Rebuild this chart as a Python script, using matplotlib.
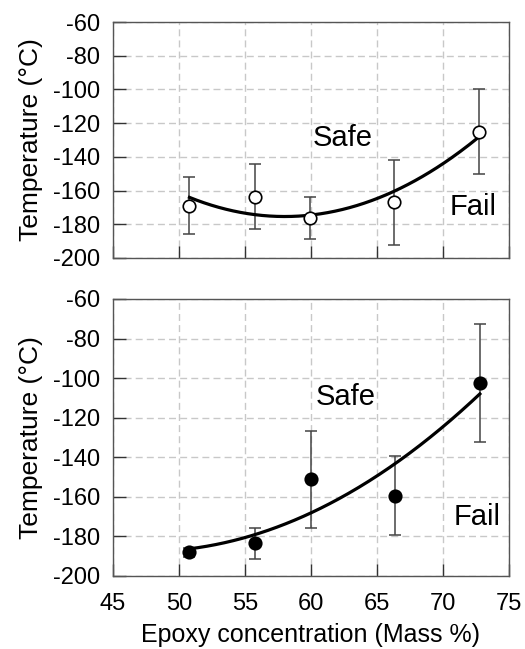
import numpy as np
import matplotlib
matplotlib.use('Agg')
import matplotlib.pyplot as plt

plt.rcParams['font.family'] = ['Liberation Sans', 'DejaVu Sans']
plt.rcParams['axes.unicode_minus'] = False

# Top panel (open circles)
x_top = [50.8, 55.8, 59.9, 66.3, 72.75]
y_top = [-169, -164, -176.5, -167, -125]
err_top_hi = [-152, -144, -164, -142, -100]
err_top_lo = [-185.5, -183, -189, -192.5, -150]

# Bottom panel (filled circles)
x_bot = [50.8, 55.8, 60.0, 66.4, 72.8]
y_bot = [-188, -183.5, -151, -159.5, -102.5]
err_bot_hi = [-186, -175.5, -126.5, -139.5, -72.5]
err_bot_lo = [-190.5, -191.5, -175.5, -179.5, -132.5]

xticks = [45, 50, 55, 60, 65, 70, 75]
yticks = [-200, -180, -160, -140, -120, -100, -80, -60]

fig = plt.figure(figsize=(5.25, 6.49), dpi=100)
ax1 = fig.add_axes([0.215, 0.6025, 0.7543, 0.3636])
ax2 = fig.add_axes([0.215, 0.1125, 0.7543, 0.4268])


def draw(ax, x, y, hi, lo, filled, safe_pos, fail_pos):
    x = np.array(x)
    y = np.array(y)
    yerr = [y - np.array(lo), np.array(hi) - y]
    ax.errorbar(x, y, yerr=yerr, fmt='none', ecolor='#444444', elinewidth=1.1,
                capsize=4.5, capthick=1.1, zorder=3)
    coef = np.polyfit(x, y, 2)
    xf = np.linspace(x.min(), x.max(), 200)
    ax.plot(xf, np.polyval(coef, xf), color='black', lw=2.3, zorder=4)
    ax.plot(x, y, 'o', ms=9, mfc='black' if filled else 'white',
            mec='black', mew=1.2, zorder=5)
    ax.text(*safe_pos, 'Safe', fontsize=21, ha='center', va='center')
    ax.text(*fail_pos, 'Fail', fontsize=21, ha='center', va='center')
    ax.set_xlim(45, 75)
    ax.set_ylim(-200, -60)
    ax.set_xticks(xticks)
    ax.set_yticks(yticks)
    ax.grid(True, color='#c8c8c8', ls=(0, (5, 3)), lw=1.0)
    ax.set_axisbelow(True)
    ax.tick_params(direction='in', length=9, width=1, color='#333333',
                   labelsize=17)
    ax.tick_params(axis='y', pad=9)
    ax.tick_params(axis='x', pad=12)
    for s in ax.spines.values():
        s.set_color('#555555')
        s.set_linewidth(1.0)
    ax.set_ylabel('Temperature (°C)', fontsize=19, labelpad=7)


draw(ax1, x_top, y_top, err_top_hi, err_top_lo, False, (62.4, -129), (72.3, -170))
draw(ax2, x_bot, y_bot, err_bot_hi, err_bot_lo, True, (62.6, -109.5), (72.6, -170))
ax1.tick_params(labelbottom=False)
ax2.set_xlabel('Epoxy concentration (Mass %)', fontsize=18, labelpad=6)

fig.savefig('out.png', dpi=100)
